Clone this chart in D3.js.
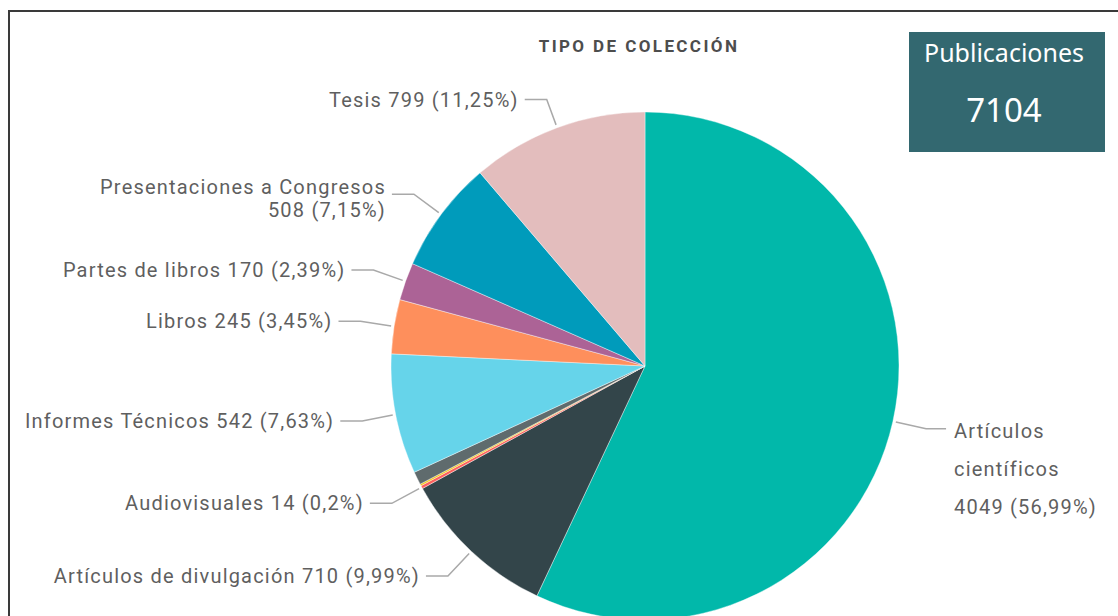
<!DOCTYPE html>
<html>
<head>
<meta charset="utf-8">
<script src="https://cdn.jsdelivr.net/npm/d3@7"></script>
<style>
  html, body { margin: 0; padding: 0; background: #fff; }
  svg { display: block; }
</style>
</head>
<body>
<svg id="chart" width="1118" height="616"></svg>
<script>
// ---- DATA ----
const categories = [
  "Artículos científicos",
  "Artículos de divulgación",
  "Audiovisuales",
  "Otra categoría A",
  "Otra categoría B",
  "Informes Técnicos",
  "Libros",
  "Partes de libros",
  "Presentaciones a Congresos",
  "Tesis"
];
const values = [4049, 710, 14, 8, 59, 542, 245, 170, 508, 799];
const pctLabels = ["56,99%", "9,99%", "0,2%", "", "", "7,63%", "3,45%", "2,39%", "7,15%", "11,25%"];
const showLabel = [true, true, true, false, false, true, true, true, true, true];
const colors = ["#01B8AA", "#33454A", "#FD625E", "#F2C80F", "#5F6B6D", "#66D4EA", "#FE8F5C", "#AC6396", "#009BBB", "#E3BDBD"];
const title = "TIPO DE COLECCIÓN";
const cardTitle = "Publicaciones";

// ---- LAYOUT ----
const svg = d3.select("#chart");
const W = 1118, H = 616;
const cx = 645, cy = 366, R = 254;

// frame
svg.append("rect").attr("x", 9).attr("y", 11).attr("width", W + 20).attr("height", H + 20)
  .attr("fill", "none").attr("stroke", "#3a3a3a").attr("stroke-width", 2);

// title
svg.append("text").attr("x", 639).attr("y", 52).attr("text-anchor", "middle")
  .attr("font-family", "Roboto, sans-serif").attr("font-weight", 700).attr("font-size", 17)
  .attr("letter-spacing", "2.4px").attr("fill", "#4d4d4d").text(title);

// card
const total = d3.sum(values);
const card = svg.append("g");
card.append("rect").attr("x", 909).attr("y", 32).attr("width", 196).attr("height", 120).attr("fill", "#336870");
card.append("text").attr("x", 1004).attr("y", 62).attr("text-anchor", "middle")
  .attr("font-family", "'Noto Sans', 'Open Sans', sans-serif").attr("font-size", 25).attr("fill", "#fff").text(cardTitle);
card.append("text").attr("x", 1004).attr("y", 122).attr("text-anchor", "middle")
  .attr("font-family", "'Noto Sans', 'Open Sans', sans-serif").attr("font-size", 33).attr("fill", "#fff").text(d3.format("d")(total));

// pie
const data = categories.map((c, i) => ({ cat: c, value: values[i], pct: pctLabels[i], show: showLabel[i], color: colors[i] }));
const pie = d3.pie().value(d => d.value).sort(null);
const arcs = pie(data);
const arc = d3.arc().innerRadius(0).outerRadius(R);

const g = svg.append("g").attr("transform", `translate(${cx},${cy})`);
g.selectAll("path.slice").data(arcs).join("path")
  .attr("class", "slice").attr("d", arc).attr("fill", d => d.data.color)
  .attr("stroke", "#fff").attr("stroke-width", 0.4);

// labels
const rimArc = d3.arc().innerRadius(R + 3).outerRadius(R + 3);
const elbowArc = d3.arc().innerRadius(R + 34).outerRadius(R + 34);
const wrap = {
  "Presentaciones a Congresos": { lines: d => [d.cat, `${d.value} (${d.pct})`], lh: 23, first: -7 },
  "Artículos científicos": { lines: d => ["Artículos", "científicos", `${d.value} (${d.pct})`], lh: 38, first: 2 },
  "Tesis": { lines: d => [`${d.cat} ${d.value} (${d.pct})`], lh: 0, first: 0, elbowR: 30 }
};
const lbl = svg.append("g").attr("transform", `translate(${cx},${cy})`);
arcs.filter(a => a.data.show).forEach(a => {
  const mid = (a.startAngle + a.endAngle) / 2;
  const right = Math.sin(mid) > 0;
  const w = wrap[a.data.cat];
  const eArc = (w && w.elbowR) ? d3.arc().innerRadius(R + w.elbowR).outerRadius(R + w.elbowR) : elbowArc;
  const p0 = rimArc.centroid({ startAngle: mid, endAngle: mid });
  const p1 = eArc.centroid({ startAngle: mid, endAngle: mid });
  const p2 = [p1[0] + (right ? 20 : -22), p1[1]];
  lbl.append("polyline").attr("points", [p0, p1, p2].map(p => p.join(",")).join(" "))
    .attr("fill", "none").attr("stroke", "#a9a9a9").attr("stroke-width", 1.5);
  const lines = w ? w.lines(a.data) : [`${a.data.cat} ${a.data.value} (${a.data.pct})`];
  const lh = w ? w.lh : 0;
  const first = w ? w.first : 0;
  const tx = p2[0] + (right ? 8 : -6);
  const t = lbl.append("text")
    .attr("x", tx).attr("y", p2[1] + first)
    .attr("text-anchor", right ? "start" : "end")
    .attr("font-family", "Roboto, sans-serif").attr("font-size", 20)
    .attr("letter-spacing", "1.2px").attr("fill", "#5f5f5f");
  lines.forEach((s, i) => {
    t.append("tspan").attr("x", tx).attr("y", p2[1] + first + i * lh)
      .attr("dy", "0.35em").text(s);
  });
});
</script>
</body>
</html>
